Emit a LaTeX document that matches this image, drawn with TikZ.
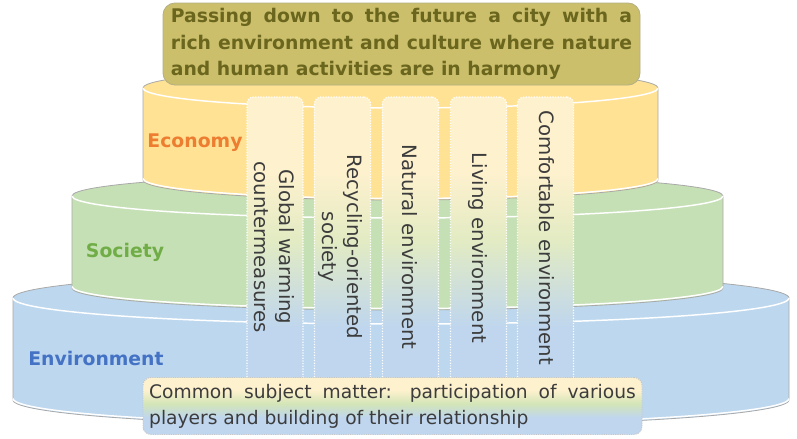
\documentclass[tikz,border=0pt]{standalone}
\usepackage{fontspec}
\setmainfont{DejaVu Sans}

% tier colours
\definecolor{ecoY}{HTML}{FFE294}
\definecolor{socG}{HTML}{C5E0B4}
\definecolor{envB}{HTML}{BDD7EE}
\definecolor{ecoTxt}{HTML}{ED7D31}
\definecolor{socTxt}{HTML}{70AD47}
\definecolor{envTxt}{HTML}{4472C4}
\definecolor{drumLine}{HTML}{A9A9A9}
% goal banner
\definecolor{goalFill}{HTML}{CBBF6C}
\definecolor{goalEdge}{HTML}{B4AE84}
\definecolor{goalTxt}{HTML}{6B661D}
% pillar / footer gradients
\definecolor{colCream}{HTML}{FEF1CE}
\definecolor{colGreen}{HTML}{E2EBC3}
\definecolor{colGreenB}{HTML}{D3E5B7}
\definecolor{colBlue}{HTML}{BFD6EE}
\definecolor{txtGray}{HTML}{3C3C3C}

\pgfdeclareverticalshading{pillarshade}{100bp}{color(0bp)=(colBlue); color(35bp)=(colBlue); color(50bp)=(colGreen); color(62bp)=(colCream); color(100bp)=(colCream)}
\pgfdeclareverticalshading{footshade}{100bp}{color(0bp)=(colBlue); color(40bp)=(colBlue); color(52bp)=(colGreenB); color(64bp)=(colCream); color(100bp)=(colCream)}

% one drum of the layered cake: centre x, x radius, top y, bottom y, y radius, fill
% (y axis points down, so angle 90 is the front of each ellipse)
\newcommand\tierdrum[6]{%
  \filldraw[fill=#6, drumedge]
    (#1-#2,#3) -- (#1-#2,#4)
    arc[start angle=180, end angle=0, x radius=#2, y radius=#5]
    -- (#1+#2,#3)
    arc[start angle=0, end angle=-180, x radius=#2, y radius=#5] -- cycle;
  \draw[drumrim] (#1-#2,#3) arc[start angle=180, end angle=0, x radius=#2, y radius=#5];
  \draw[drumrim] (#1-#2,#4-1.5) arc[start angle=180, end angle=0, x radius=#2, y radius=#5];
}

\tikzset{
  drumedge/.style={draw=drumLine, line width=0.6pt},
  drumrim/.style={draw=white, line width=1.1pt},
  tierlabel/.style={font=\fontsize{14.1pt}{17pt}\selectfont\bfseries, inner sep=0pt},
  goalbox/.style={draw=goalEdge, line width=0.6pt, fill=goalFill, rounded corners=9pt,
    minimum width=357.75pt, minimum height=61.5pt, text=goalTxt,
    font=\fontsize{14.1pt}{20pt}\selectfont\bfseries, align=left, inner sep=0pt},
  pillar/.style={shade, shading=pillarshade, draw=white, line width=0.9pt,
    dash pattern=on 0.9pt off 1.1pt, rounded corners=5pt,
    minimum width=42pt, minimum height=216pt, inner sep=0pt},
  pillartext/.style={rotate=-90, align=center, text=txtGray,
    font=\fontsize{14.8pt}{18.75pt}\selectfont, inner sep=0pt},
  footbox/.style={shade, shading=footshade, draw=gray!45, line width=0.7pt,
    dash pattern=on 0.8pt off 0.9pt, rounded corners=6pt,
    minimum width=374.25pt, minimum height=42.75pt, text=txtGray,
    font=\fontsize{14pt}{19.5pt}\selectfont, align=left, inner sep=0pt},
}

\begin{document}
\begin{tikzpicture}[x=0.75pt, y=-0.75pt]
  \fill[white] (0,0) rectangle (797,439);
  \useasboundingbox (0,0) rectangle (797,439);

  % the three drums, bottom to top
  \tierdrum{401}{388}{298}{400}{26}{envB}
  \tierdrum{397.5}{325.5}{196}{288}{22}{socG}
  \tierdrum{400.5}{257.5}{88}{180}{20}{ecoY}

  % tier names
  \node[tierlabel, text=ecoTxt] (eco) at (195,143) {Economy};
  \node[tierlabel, text=socTxt] (soc) at (125,252) {Society};
  \node[tierlabel, text=envTxt] (env) at (96,358) {Environment};

  % goal banner on top
  \node[goalbox] (goal) at (401.5,44) {%
    \makebox[346pt][s]{Passing down to the future a city with a}\\
    \makebox[346pt][s]{rich environment and culture where nature}\\
    and human activities are in harmony};

  % five pillars crossing the drums
  \node[pillar] (p1) at (275,241) {};
  \node[pillar] (p2) at (342.5,241) {};
  \node[pillar] (p3) at (410.5,241) {};
  \node[pillar] (p4) at (478.5,241) {};
  \node[pillar] (p5) at (545.5,241) {};

  \node[pillartext] (t1) at (274.5,247) {Global warming\\countermeasures};
  \node[pillartext] (t2) at (340.5,247) {Recycling-oriented\\society};
  \node[pillartext] (t3) at (410,247) {Natural environment};
  \node[pillartext] (t4) at (478,248) {Living environment};
  \node[pillartext] (t5) at (547,238) {Comfortable environment};

  % common base
  \node[footbox] (base) at (392.5,406) {%
    \makebox[365pt][s]{Common subject matter: participation of various}\\
    players and building of their relationship};
\end{tikzpicture}
\end{document}
